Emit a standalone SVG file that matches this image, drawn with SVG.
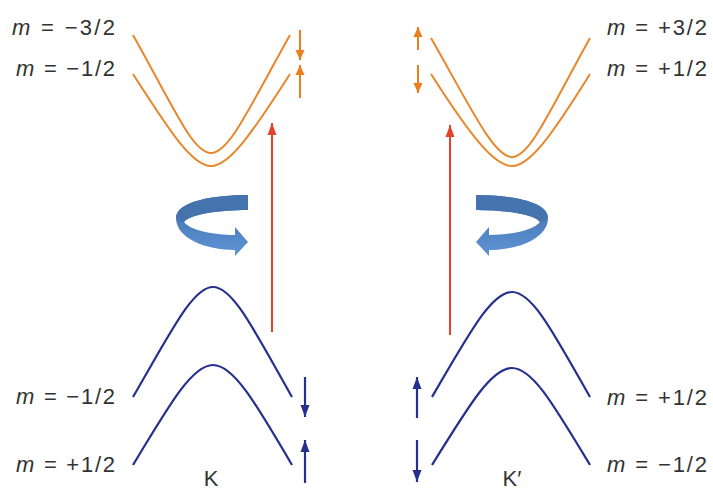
<svg xmlns="http://www.w3.org/2000/svg" width="713" height="491" viewBox="0 0 713 491">
<defs>
<style>
.lbl{font-family:"Liberation Sans",Arial,sans-serif;font-size:22px;fill:#333;}
.band-o{fill:none;stroke:#e8862a;stroke-width:2;}
.band-b{fill:none;stroke:#24308c;stroke-width:2.2;}
.arr-o{stroke:#ec7f1c;stroke-width:2;marker-end:url(#hO);}
.arr-b{stroke:#24308c;stroke-width:2.2;marker-end:url(#hB);}
.arr-r{stroke:#e4432b;stroke-width:2;marker-end:url(#hR);}
</style>
<marker id="hO" markerUnits="userSpaceOnUse" markerWidth="10" markerHeight="10" refX="10" refY="5" orient="auto"><path d="M0,0.5 L10,5 L0,9.5 z" fill="#ec7f1c"/></marker>
<marker id="hB" markerUnits="userSpaceOnUse" markerWidth="12" markerHeight="10" refX="12" refY="5" orient="auto"><path d="M0,0.5 L12,5 L0,9.5 z" fill="#24308c"/></marker>
<marker id="hR" markerUnits="userSpaceOnUse" markerWidth="12" markerHeight="10" refX="12" refY="5" orient="auto"><path d="M0,0.5 L12,5 L0,9.5 z" fill="#e4432b"/></marker>
<linearGradient id="rotG" x1="0" y1="0" x2="0" y2="1">
<stop offset="0" stop-color="#3f6ea8"/>
<stop offset="1" stop-color="#5f94d6"/>
</linearGradient>
<g id="rot">
<path d="M248,195 C215,195 176,201 176,218 C176,238 205,250 235,250 L235,256 L248,242 L235,227 L235,235 C212,235 190,230 184,222 C190,214 220,210 248,210 Z" fill="url(#rotG)"/>
<path d="M248,195 C215,195 176,201 176,218 C178,221 181,222 184,222 C190,214 220,210 248,210 Z" fill="#4573ad"/>
</g>
</defs>
<rect width="713" height="491" fill="#fff"/>

<g id="K-conduction">
<path class="band-o" d="M133,35 C175,110 193,153 211,153 C229,153 248,110 290,35"/>
<path class="band-o" d="M133,74 C172,135 193,166 211,166 C229,166 251,135 290,74"/>
</g>
<g id="Kp-conduction">
<path class="band-o" d="M431,38 C472,110 494,157 512,157 C530,157 550,110 590,38"/>
<path class="band-o" d="M431,74 C470,135 494,166 512,166 C530,166 552,135 590,74"/>
</g>
<g id="K-valence">
<path class="band-b" d="M133,397 C172,330 193,287 213,287 C233,287 254,330 292,397"/>
<path class="band-b" d="M133,465 C172,400 193,365 213,365 C233,365 254,400 292,465"/>
</g>
<g id="Kp-valence">
<path class="band-b" d="M432,397 C471,330 492,292 512,292 C532,292 552,330 590,397"/>
<path class="band-b" d="M432,465 C471,402 492,368 512,368 C532,368 552,402 590,465"/>
</g>
<g id="K-rotation"><use href="#rot"/></g>
<g id="Kp-rotation"><use href="#rot" transform="translate(724,0) scale(-1,1)"/></g>

<g id="connectors">
<line class="arr-o" x1="300" y1="30" x2="300" y2="60"/>
<line class="arr-o" x1="300" y1="98" x2="300" y2="65"/>
<line class="arr-o" x1="418" y1="50" x2="418" y2="27"/>
<line class="arr-o" x1="418" y1="65" x2="418" y2="93"/>
<line class="arr-r" x1="272" y1="332" x2="272" y2="123"/>
<line class="arr-r" x1="450" y1="335" x2="450" y2="125"/>
<line class="arr-b" x1="305" y1="377" x2="305" y2="417"/>
<line class="arr-b" x1="305" y1="483" x2="305" y2="440"/>
<line class="arr-b" x1="417" y1="418" x2="417" y2="377"/>
<line class="arr-b" x1="417" y1="440" x2="417" y2="482"/>
</g>

<g id="labels">
<text class="lbl" x="115" y="35" text-anchor="end" textLength="103" lengthAdjust="spacing"><tspan font-style="italic">m</tspan> = −3/2</text>
<text class="lbl" x="115" y="76" text-anchor="end" textLength="99" lengthAdjust="spacing"><tspan font-style="italic">m</tspan> = −1/2</text>
<text class="lbl" x="607" y="35" textLength="100" lengthAdjust="spacing"><tspan font-style="italic">m</tspan> = +3/2</text>
<text class="lbl" x="607" y="76" textLength="100" lengthAdjust="spacing"><tspan font-style="italic">m</tspan> = +1/2</text>
<text class="lbl" x="115" y="404" text-anchor="end" textLength="99" lengthAdjust="spacing"><tspan font-style="italic">m</tspan> = −1/2</text>
<text class="lbl" x="115" y="472" text-anchor="end" textLength="99" lengthAdjust="spacing"><tspan font-style="italic">m</tspan> = +1/2</text>
<text class="lbl" x="607" y="405" textLength="100" lengthAdjust="spacing"><tspan font-style="italic">m</tspan> = +1/2</text>
<text class="lbl" x="607" y="472" textLength="100" lengthAdjust="spacing"><tspan font-style="italic">m</tspan> = −1/2</text>
<text class="lbl" x="211" y="486" text-anchor="middle">K</text>
<text class="lbl" x="512" y="486" text-anchor="middle">K′</text>
</g>
</svg>
